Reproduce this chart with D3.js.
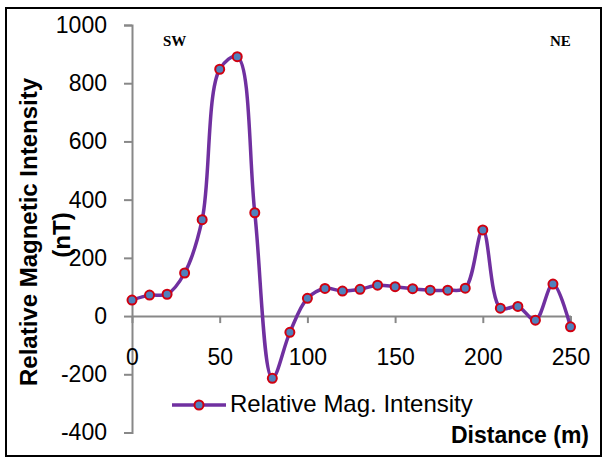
<!DOCTYPE html>
<html><head><meta charset="utf-8">
<script src="https://cdn.jsdelivr.net/npm/d3@7"></script>
<style>body{margin:0;background:#fff}svg{display:block}</style>
</head><body>
<svg id="c" width="603" height="458"></svg>
<script>
const distances = [0,10,20,30,40,50,60,70,80,90,100,110,120,130,140,150,160,170,180,190,200,210,220,230,240,250];
const intensity = [55,72,75,148,331,848,891,355,-214,-56,61,95,86,92,106,101,94,89,89,96,296,27,33,-14,110,-37];
const xTicks = [0,50,100,150,200,250];
const yTicks = [-400,-200,0,200,400,600,800,1000];
const seriesName = "Relative Mag. Intensity";

const svg = d3.select("#c");
const x = d3.scaleLinear().domain([0,250]).range([132,570.5]);
const y = d3.scaleLinear().domain([-400,1000]).range([432.5,25]);

// frame
svg.append("rect").attr("x",6).attr("y",8).attr("width",595).attr("height",448)
  .attr("fill","none").attr("stroke","#000").attr("stroke-width",2);

const font = "'Liberation Sans', Arial, sans-serif";

// y axis
const yAxis = svg.append("g").attr("transform",`translate(${x(0)},0)`)
  .call(d3.axisLeft(y).tickValues(yTicks).tickSize(8).tickPadding(17).tickFormat(d=>String(d)));
yAxis.select(".domain").attr("stroke","#888").attr("stroke-width",2);
yAxis.selectAll(".tick line").attr("stroke","#888").attr("stroke-width",2);
yAxis.selectAll("text").attr("font-family",font).attr("font-size",23).attr("fill","#000");

// x axis at y=0
const xAxis = svg.append("g").attr("transform",`translate(0,${y(0)})`)
  .call(d3.axisBottom(x).tickValues(xTicks).tickSizeInner(7).tickSizeOuter(0).tickPadding(26).tickFormat(d=>String(d)));
xAxis.select(".domain").attr("stroke","#888").attr("stroke-width",2);
xAxis.selectAll(".tick line").attr("stroke","#888").attr("stroke-width",2);
xAxis.selectAll("text").attr("font-family",font).attr("font-size",23).attr("fill","#000");

const data = distances.map((d,i)=>({d, v:intensity[i]}));
const line = d3.line().x(p=>x(p.d)).y(p=>y(p.v)).curve(d3.curveCatmullRom.alpha(0.5));
svg.append("path").datum(data).attr("d",line).attr("fill","none")
  .attr("stroke","#7030A0").attr("stroke-width",3.5).attr("stroke-linejoin","round");
svg.selectAll("circle.m").data(data).join("circle").attr("class","m")
  .attr("cx",p=>x(p.d)).attr("cy",p=>y(p.v)).attr("r",4.5)
  .attr("fill","#4F81BD").attr("stroke","#D00010").attr("stroke-width",2);

// y title
svg.append("text").attr("transform","translate(37,232) rotate(-90)")
  .attr("text-anchor","middle").attr("font-family",font).attr("font-weight","bold").attr("font-size",24)
  .text("Relative Magnetic Intensity");
svg.append("text").attr("transform","translate(70,235) rotate(-90)")
  .attr("text-anchor","middle").attr("font-family",font).attr("font-weight","bold").attr("font-size",24)
  .text("(nT)");

// x title
svg.append("text").attr("x",589).attr("y",443).attr("text-anchor","end")
  .attr("font-family",font).attr("font-weight","bold").attr("font-size",23).text("Distance (m)");

// legend
const lg = svg.append("g");
lg.append("line").attr("x1",172).attr("x2",226).attr("y1",405).attr("y2",405)
  .attr("stroke","#7030A0").attr("stroke-width",3.5);
lg.append("circle").attr("cx",199).attr("cy",405).attr("r",4.5)
  .attr("fill","#4F81BD").attr("stroke","#D00010").attr("stroke-width",2);
lg.append("text").attr("x",230).attr("y",412).attr("font-family",font).attr("font-size",24)
  .attr("fill","#000").text(seriesName);

// direction labels
svg.append("text").attr("x",163).attr("y",46).attr("font-family","'Liberation Serif','Times New Roman',serif")
  .attr("font-weight","bold").attr("font-size",15).text("SW");
svg.append("text").attr("x",550).attr("y",46).attr("font-family","'Liberation Serif','Times New Roman',serif")
  .attr("font-weight","bold").attr("font-size",15).text("NE");
</script>
</body></html>
